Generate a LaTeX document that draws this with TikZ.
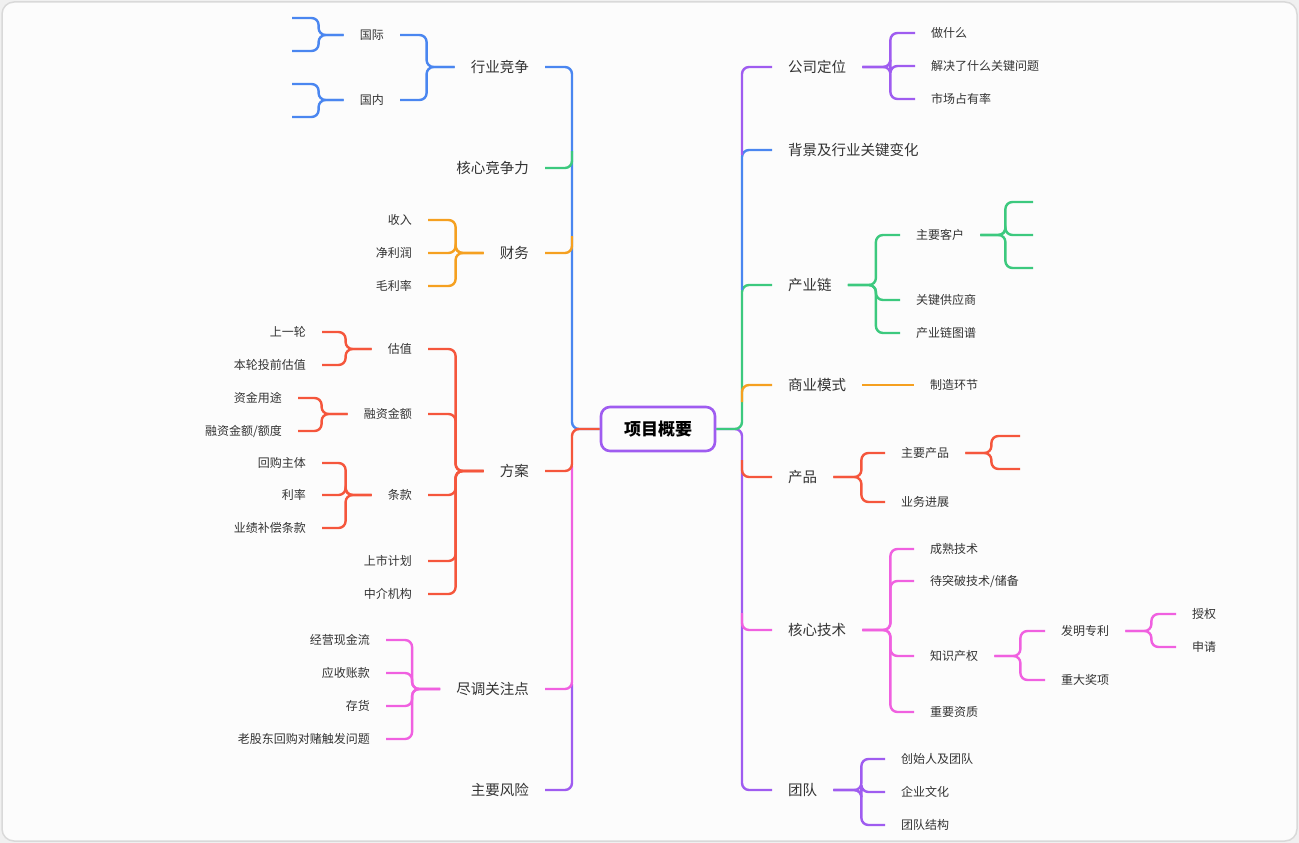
\documentclass[tikz,border=0pt]{standalone}
\usepackage{fontspec}
\setmainfont{Noto Sans CJK SC}
\definecolor{cpurple}{HTML}{9F5CF0}
\definecolor{cblue}{HTML}{4A86F0}
\definecolor{cgreen}{HTML}{3CC97E}
\definecolor{corange}{HTML}{F5A020}
\definecolor{cred}{HTML}{F5563C}
\definecolor{cpink}{HTML}{F060E0}
\definecolor{ctext}{HTML}{333333}
\tikzset{
  bc/.style={line width=2.4pt, rounded corners=7pt},
  rt/.style={anchor=west, inner xsep=16pt, inner ysep=0pt, text=ctext, font=\fontsize{12}{14}\selectfont},
  lt/.style={anchor=east, inner xsep=16pt, inner ysep=0pt, text=ctext, font=\fontsize{12}{14}\selectfont},
  big/.style={font=\fontsize{14.5}{16}\selectfont},
}
\begin{document}
\begin{tikzpicture}[x=1pt,y=-1pt]
\useasboundingbox (0,0) rectangle (1299,843);
\fill[gray!12] (0,0) rectangle (1299,843);
\draw[gray!30, line width=1.5pt, fill=white!98!gray, rounded corners=12pt] (2,2) rectangle (1297,841);

% root
\node[draw=cpurple, line width=2.6pt, rounded corners=9pt, minimum width=114pt, minimum height=44pt,
  font=\fontsize{17}{19}\selectfont\bfseries, text=black] (root) at (658,429) {项目概要};

% right first level
\node[rt,big] (gs) at (772,67) {公司定位};
\node[rt,big] (bj) at (772,150) {背景及行业关键变化};
\node[rt,big] (cyl) at (772,285) {产业链};
\node[rt,big] (sy) at (772,385) {商业模式};
\node[rt,big] (cp) at (772,477) {产品};
\node[rt,big] (js) at (772,630) {核心技术};
\node[rt,big] (td) at (772,790) {团队};
% left first level
\node[lt,big] (hy) at (545,67) {行业竞争};
\node[lt,big] (hx) at (545,168) {核心竞争力};
\node[lt,big] (cw) at (545,253) {财务};
\node[lt,big] (fa) at (545,471) {方案};
\node[lt,big] (jd) at (545,689) {尽调关注点};
\node[lt,big] (fx) at (545,790) {主要风险};

% trunk right
\draw[bc,cpurple] (root.east) -- (742,429) |- (td.west);
\draw[bc,cgreen] (root.east) -- (742,429) |- (cyl.west);
\draw[bc,cblue] (742,290) |- (bj.west);
\draw[bc,cpurple] (742,155) |- (gs.west);
\draw[bc,corange] (742,402) |- (sy.west);
\draw[bc,cred] (742,460) |- (cp.west);
\draw[bc,cpink] (742,613) |- (js.west);
% trunk left
\draw[bc,cblue] (root.west) -- (572,429) |- (hy.east);
\draw[bc,cgreen] (572,151) |- (hx.east);
\draw[bc,corange] (572,236) |- (cw.east);
\draw[bc,cpurple] (572,684) |- (fx.east);
\draw[bc,cpink] (572,466) |- (jd.east);
\draw[bc,cred] (root.west) -- (572,429) |- (fa.east);

% 公司定位
\node[rt] (gs1) at (915,33) {做什么};
\node[rt] (gs2) at (915,66) {解决了什么关键问题};
\node[rt] (gs3) at (915,99) {市场占有率};
\foreach \c in {gs1,gs2,gs3} \draw[bc,cpurple] (gs.east) -- ++(28,0) |- (\c.west);

% 产业链
\node[rt] (kh) at (900,235) {主要客户};
\node[rt] (gy) at (900,300) {关键供应商};
\node[rt] (tp) at (900,333) {产业链图谱};
\foreach \c in {kh,gy,tp} \draw[bc,cgreen] (cyl.east) -- ++(28,0) |- (\c.west);
\coordinate (kh1) at (1033,202);
\coordinate (kh2) at (1033,235);
\coordinate (kh3) at (1033,268);
\foreach \c in {kh1,kh2,kh3} \draw[bc,cgreen] (kh.east) -- ++(25,0) |- (\c);

% 商业模式
\node[rt] (zz) at (914,385) {制造环节};
\draw[bc,corange] (sy.east) -- (zz.west);

% 产品
\node[rt] (zycp) at (885,453) {主要产品};
\node[rt] (yw) at (885,502) {业务进展};
\foreach \c in {zycp,yw} \draw[bc,cred] (cp.east) -- ++(28,0) |- (\c.west);
\coordinate (zycp1) at (1020,436);
\coordinate (zycp2) at (1020,469);
\foreach \c in {zycp1,zycp2} \draw[bc,cred] (zycp.east) -- ++(26,0) |- (\c);

% 核心技术
\node[rt] (js1) at (914,549) {成熟技术};
\node[rt] (js2) at (914,581) {待突破技术/储备};
\node[rt] (zs) at (914,656) {知识产权};
\node[rt] (js4) at (914,712) {重要资质};
\foreach \c in {js1,js2,zs,js4} \draw[bc,cpink] (js.east) -- ++(28,0) |- (\c.west);
\node[rt] (zl) at (1045,631) {发明专利};
\node[rt] (jx) at (1045,680) {重大奖项};
\foreach \c in {zl,jx} \draw[bc,cpink] (zs.east) -- ++(26,0) |- (\c.west);
\node[rt] (sq) at (1176,614) {授权};
\node[rt] (sqing) at (1176,647) {申请};
\foreach \c in {sq,sqing} \draw[bc,cpink] (zl.east) -- ++(26,0) |- (\c.west);

% 团队
\node[rt] (td1) at (885,759) {创始人及团队};
\node[rt] (td2) at (885,792) {企业文化};
\node[rt] (td3) at (885,825) {团队结构};
\foreach \c in {td1,td2,td3} \draw[bc,cpurple] (td.east) -- ++(28,0) |- (\c.west);

% 行业竞争
\node[lt] (gj) at (400,35) {国际};
\node[lt] (gn) at (400,100) {国内};
\foreach \c in {gj,gn} \draw[bc,cblue] (hy.west) -- ++(-28,0) |- (\c.east);
\coordinate (gj1) at (292,18);
\coordinate (gj2) at (292,51);
\coordinate (gn1) at (292,84);
\coordinate (gn2) at (292,117);
\foreach \c in {gj1,gj2} \draw[bc,cblue] (gj.west) -- ++(-25,0) |- (\c);
\foreach \c in {gn1,gn2} \draw[bc,cblue] (gn.west) -- ++(-25,0) |- (\c);

% 财务
\node[lt] (sr) at (428,220) {收入};
\node[lt] (jl) at (428,253) {净利润};
\node[lt] (ml) at (428,286) {毛利率};
\foreach \c in {sr,jl,ml} \draw[bc,corange] (cw.west) -- ++(-28,0) |- (\c.east);

% 方案
\node[lt] (gz) at (428,349) {估值};
\node[lt] (rz) at (428,414) {融资金额};
\node[lt] (tk) at (428,495) {条款};
\node[lt] (ss) at (428,561) {上市计划};
\node[lt] (zj) at (428,594) {中介机构};
\foreach \c in {gz,rz,tk,ss,zj} \draw[bc,cred] (fa.west) -- ++(-28,0) |- (\c.east);
\node[lt] (gz1) at (322,332) {上一轮};
\node[lt] (gz2) at (322,365) {本轮投前估值};
\foreach \c in {gz1,gz2} \draw[bc,cred] (gz.west) -- ++(-26,0) |- (\c.east);
\node[lt] (rz1) at (298,398) {资金用途};
\node[lt] (rz2) at (298,431) {融资金额/额度};
\foreach \c in {rz1,rz2} \draw[bc,cred] (rz.west) -- ++(-26,0) |- (\c.east);
\node[lt] (tk1) at (322,463) {回购主体};
\node[lt] (tk2) at (322,495) {利率};
\node[lt] (tk3) at (322,528) {业绩补偿条款};
\foreach \c in {tk1,tk2,tk3} \draw[bc,cred] (tk.west) -- ++(-26,0) |- (\c.east);

% 尽调关注点
\node[lt] (jd1) at (386,640) {经营现金流};
\node[lt] (jd2) at (386,673) {应收账款};
\node[lt] (jd3) at (386,706) {存货};
\node[lt] (jd4) at (386,739) {老股东回购对赌触发问题};
\foreach \c in {jd1,jd2,jd3,jd4} \draw[bc,cpink] (jd.west) -- ++(-28,0) |- (\c.east);
\end{tikzpicture}
\end{document}
